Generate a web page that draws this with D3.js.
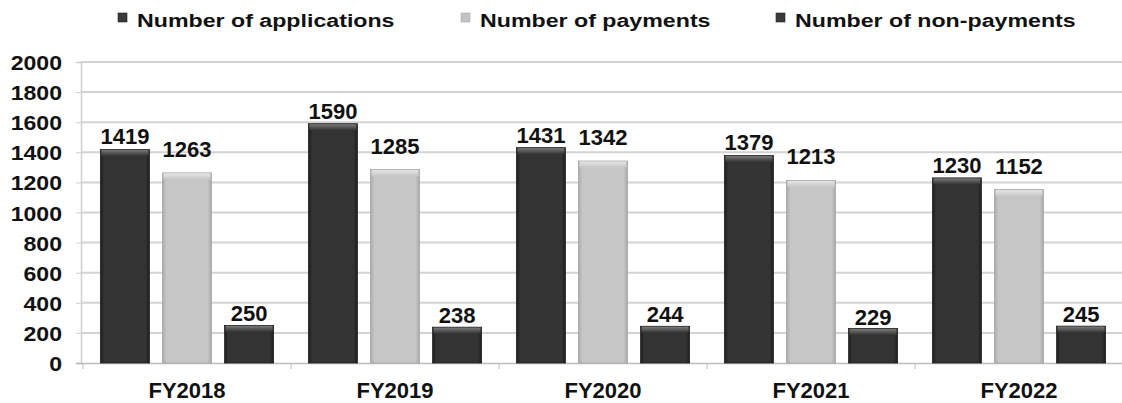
<!DOCTYPE html>
<html>
<head>
<meta charset="utf-8">
<script src="https://cdn.jsdelivr.net/npm/d3@7/dist/d3.min.js"></script>
<style>
  html, body { margin: 0; padding: 0; background: #fff; }
  svg { display: block; }
  text { font-family: "Liberation Sans", Arial, sans-serif; font-weight: bold; fill: #111; }
</style>
</head>
<body>
<svg id="chart" width="1122" height="403"></svg>
<script>
// Fiscal years on the x axis
const categories = ["FY2018", "FY2019", "FY2020", "FY2021", "FY2022"];
// Series names, in legend order
const seriesNames = ["Number of applications", "Number of payments", "Number of non-payments"];
// Values per series, one per fiscal year
const applications = [1419, 1590, 1431, 1379, 1230];
const payments     = [1263, 1285, 1342, 1213, 1152];
const nonPayments  = [250, 238, 244, 229, 245];
// Y axis ticks
const yTicks = [0, 200, 400, 600, 800, 1000, 1200, 1400, 1600, 1800, 2000];

const seriesValues = [applications, payments, nonPayments];
const seriesFill = ["dark", "light", "dark"];
const labelGap = [5, 16, 4];

const svg = d3.select("#chart");
const margin = { left: 83, right: 1123, top: 62, bottom: 363 };

const x = d3.scaleBand().domain(categories).range([margin.left, margin.right]).padding(0);
const xInner = d3.scaleBand().domain(d3.range(3)).range([0, x.bandwidth()])
  .paddingInner(0.21).paddingOuter(0.28);
const y = d3.scaleLinear().domain([0, 2000]).range([margin.bottom, margin.top]);

// Gradients for the bevelled bars
const defs = svg.append("defs");
function barGradients(id, edge, mid) {
  const h = defs.append("linearGradient").attr("id", id + "-h").attr("x1", 0).attr("x2", 1).attr("y1", 0).attr("y2", 0);
  h.append("stop").attr("offset", "0%").attr("stop-color", edge);
  h.append("stop").attr("offset", "8%").attr("stop-color", mid);
  h.append("stop").attr("offset", "92%").attr("stop-color", mid);
  h.append("stop").attr("offset", "100%").attr("stop-color", edge);
}
barGradients("dark", "#1e1e1e", "#333333");
barGradients("light", "#a9a9a9", "#c6c6c6");
const topDark = defs.append("linearGradient").attr("id", "dark-top").attr("x1", 0).attr("x2", 0).attr("y1", 0).attr("y2", 1);
topDark.append("stop").attr("offset", "0%").attr("stop-color", "#7a7a7a");
topDark.append("stop").attr("offset", "100%").attr("stop-color", "#333333");
const topLight = defs.append("linearGradient").attr("id", "light-top").attr("x1", 0).attr("x2", 0).attr("y1", 0).attr("y2", 1);
topLight.append("stop").attr("offset", "0%").attr("stop-color", "#e6e6e6");
topLight.append("stop").attr("offset", "100%").attr("stop-color", "#c6c6c6");

// Horizontal gridlines
svg.append("g").selectAll("line").data(yTicks.filter(d => d > 0)).join("line")
  .attr("x1", margin.left - 2).attr("x2", 1122)
  .attr("y1", d => y(d)).attr("y2", d => y(d))
  .attr("stroke", "#d3d3d3").attr("stroke-width", 2);

// Y axis
const yAxis = svg.append("g").attr("transform", `translate(${margin.left - 2},0)`)
  .call(d3.axisLeft(y).tickValues(yTicks).tickFormat(d3.format("d")).tickSize(5));
yAxis.select(".domain").attr("stroke", "#cfcfcf").attr("stroke-width", 1.5);
yAxis.selectAll(".tick line").attr("stroke", "#cfcfcf");
yAxis.selectAll(".tick text")
  .attr("font-size", 21).attr("font-family", "Liberation Sans, Arial, sans-serif")
  .attr("font-weight", "bold").attr("fill", "#111")
  .attr("x", 0).attr("dy", "0.36em").attr("text-anchor", "end")
  .attr("transform", "translate(-19,0) scale(1.1,1)");

// X axis
const xAxis = svg.append("g").attr("transform", `translate(0,${margin.bottom})`)
  .call(d3.axisBottom(x).tickSize(0).tickPadding(0));
xAxis.select(".domain").remove();
xAxis.selectAll(".tick text").attr("font-size", 22).attr("font-family", "Liberation Sans, Arial, sans-serif")
  .attr("font-weight", "bold").attr("fill", "#111").attr("dy", 0).attr("y", 35);
svg.append("line").attr("x1", margin.left - 7).attr("x2", 1122)
  .attr("y1", margin.bottom + 0.5).attr("y2", margin.bottom + 0.5)
  .attr("stroke", "#bdbdbd").attr("stroke-width", 1.5);
svg.append("g").selectAll("line").data(categories).join("line")
  .attr("x1", d => x(d)).attr("x2", d => x(d))
  .attr("y1", margin.bottom).attr("y2", margin.bottom + 6)
  .attr("stroke", "#bdbdbd");

// Bars
const groups = svg.append("g").selectAll("g").data(categories).join("g")
  .attr("transform", d => `translate(${x(d)},0)`);
seriesValues.forEach((vals, s) => {
  const fill = seriesFill[s];
  groups.append("rect")
    .attr("x", xInner(s)).attr("width", xInner.bandwidth())
    .attr("y", (d, i) => y(vals[i])).attr("height", (d, i) => y(0) - y(vals[i]))
    .attr("fill", `url(#${fill}-h)`)
    .attr("stroke", fill === "dark" ? "#222" : "#a5a5a5").attr("stroke-width", 0.8);
  groups.append("rect")
    .attr("x", xInner(s) + 1).attr("width", xInner.bandwidth() - 2)
    .attr("y", (d, i) => y(vals[i]) + 0.5).attr("height", 6)
    .attr("fill", `url(#${fill}-top)`);
  groups.append("text")
    .attr("x", xInner(s) + xInner.bandwidth() / 2)
    .attr("y", (d, i) => y(vals[i]) - labelGap[s])
    .attr("text-anchor", "middle").attr("font-size", 22)
    .text((d, i) => vals[i]);
});

// Legend
const legendX = [118, 461, 776];
const legend = svg.append("g").selectAll("g").data(seriesNames).join("g")
  .attr("transform", (d, i) => `translate(${legendX[i]},0)`);
legend.append("rect").attr("x", 0).attr("y", 13).attr("width", 9).attr("height", 9)
  .attr("fill", (d, i) => seriesFill[i] === "dark" ? "#3a3a3a" : "#c4c4c4")
  .attr("stroke", (d, i) => seriesFill[i] === "dark" ? "#222" : "#aaa").attr("stroke-width", 0.6);
legend.append("text").attr("transform", "translate(19,27) scale(1.22,1)")
  .attr("font-size", 19).text(d => d);
</script>
</body>
</html>
